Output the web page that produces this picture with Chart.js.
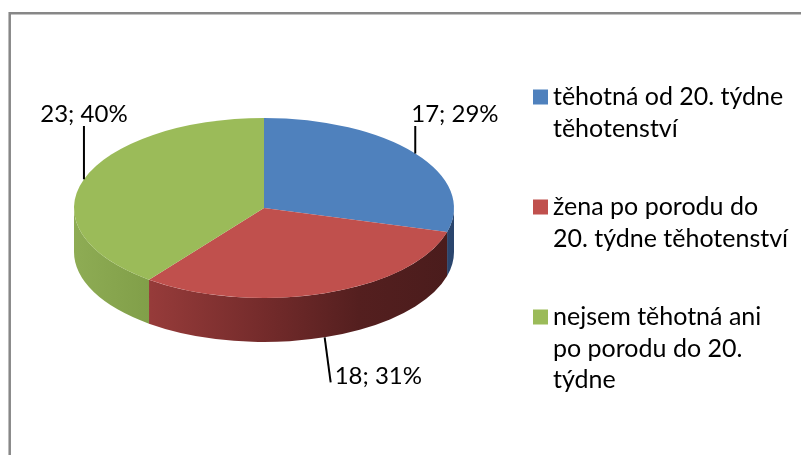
<!DOCTYPE html>
<html>
<head>
<meta charset="utf-8">
<script src="https://cdn.jsdelivr.net/npm/chart.js@4.4.1/dist/chart.umd.min.js"></script>
<style>
    html, body { margin: 0; padding: 0; background: #fff; }
    #chartBox { position: relative; width: 801px; height: 455px; }
</style>
</head>
<body>
<div id="chartBox"><canvas id="pregnancyPieChart" width="801" height="455"></canvas></div>
<script>
// data
const categories = [
    ['těhotná od 20. týdne', 'těhotenství'],
    ['žena po porodu do', '20. týdne těhotenství'],
    ['nejsem těhotná ani', 'po porodu do 20.', 'týdne']
];
const counts = [17, 18, 23];

// styles
const topColors = ['#4f81bd', '#c0504d', '#9bbb59'];
const wallStops = [
    [[0, '#4a76ad'], [0.6, '#35588a'], [1, '#2a456d']],
    [[0, '#ad4644'], [0.5, '#742b2b'], [0.75, '#541f1f'], [1, '#4a1c1c']],
    [[0, '#8eac54'], [0.3, '#7a9843'], [1, '#566f2c']]
];
const tilt = 90 / 190;
const depth = 44;
const fontName = 'Lato';
const labelSize = 24;
const legendSize = 25;

const pie3d = {
    id: 'pie3d',
    beforeDraw(chart) {
        let ctx = chart.ctx;
        ctx.save();
        ctx.strokeStyle = '#878787';
        ctx.lineWidth = 2.5;
        ctx.beginPath();
        ctx.moveTo(9.7, chart.height);
        ctx.lineTo(9.7, 13.2);
        ctx.lineTo(chart.width, 13.2);
        ctx.stroke();
        ctx.restore();
    },
    beforeDatasetsDraw(chart) {
        let ctx = chart.ctx;
        let arcs = chart.getDatasetMeta(0).data;
        let cx = arcs[0].x, cy = arcs[0].y, r = arcs[0].outerRadius;
        let ry = r * tilt;

        // side walls, only the front half shows
        arcs.forEach(function(arc, i){
            let a0 = Math.max(arc.startAngle, 0);
            let a1 = Math.min(arc.endAngle, Math.PI);
            if(a1 <= a0) return;
            let g = ctx.createLinearGradient(cx - r, 0, cx + r, 0);
            wallStops[i].forEach(function(s){ g.addColorStop(s[0], s[1]); });
            ctx.beginPath();
            ctx.ellipse(cx, cy, r, ry, 0, a0, a1);
            ctx.ellipse(cx, cy + depth, r, ry, 0, a1, a0, true);
            ctx.closePath();
            ctx.fillStyle = g;
            ctx.fill();
        });

        // squash the top face
        ctx.save();
        ctx.translate(cx, cy);
        ctx.scale(1, tilt);
        ctx.translate(-cx, -cy);
    },
    afterDatasetsDraw(chart) {
        let ctx = chart.ctx;
        ctx.restore();

        let arcs = chart.getDatasetMeta(0).data;
        let values = chart.data.datasets[0].data;
        let total = values.reduce(function(a, b){ return a + b; }, 0);

        ctx.save();
        ctx.font = labelSize + 'px ' + fontName;
        ctx.fillStyle = '#000';
        ctx.strokeStyle = '#000';
        ctx.lineWidth = 2;
        ctx.textBaseline = 'alphabetic';
        arcs.forEach(function(arc, i){
            let m = (arc.startAngle + arc.endAngle) / 2;
            let ry = arc.outerRadius * tilt;
            let px = arc.x + arc.outerRadius * Math.cos(m);
            let py = arc.y + ry * Math.sin(m);
            let text = values[i] + '; ' + Math.round(values[i] / total * 100) + '%';
            ctx.beginPath();
            if(Math.sin(m) < 0){
                // labels above the pie share one baseline
                let base = arc.y - ry + 4;
                ctx.moveTo(px, py);
                ctx.lineTo(px, base + 4);
                ctx.stroke();
                if(Math.cos(m) > 0){
                    ctx.textAlign = 'left';
                    ctx.fillText(text, px - 4, base);
                } else {
                    ctx.textAlign = 'center';
                    ctx.fillText(text, px, base);
                }
            } else {
                let sy = py + depth;
                let ex = px + 6, ey = sy + 45;
                ctx.moveTo(px, sy);
                ctx.lineTo(ex, ey);
                ctx.stroke();
                ctx.textAlign = 'left';
                ctx.fillText(text, ex + 4, ey + 2);
            }
        });
        ctx.restore();
    },
    afterDraw(chart) {
        let ctx = chart.ctx;
        let names = chart.data.labels;
        let colors = chart.data.datasets[0].backgroundColor;
        let lineH = 31.5;
        let gap = 47;
        let y = 97;
        ctx.save();
        ctx.font = legendSize + 'px ' + fontName;
        ctx.textAlign = 'left';
        ctx.textBaseline = 'middle';
        names.forEach(function(lines, i){
            ctx.fillStyle = colors[i];
            ctx.fillRect(533, y - 7.5, 15, 15);
            ctx.fillStyle = '#000';
            lines.forEach(function(line, j){
                ctx.fillText(line, 553, y + j * lineH);
            });
            y += lines.length * lineH + gap;
        });
        ctx.restore();
    }
};

let ctx = document.getElementById('pregnancyPieChart').getContext('2d');
let pregnancyPieChart = new Chart(ctx, {
    type: 'pie',
    data: {
        labels: categories,
        datasets: [{
            data: counts,
            backgroundColor: topColors,
            borderWidth: 0,
            hoverOffset: 0,
            offset: 0
        }]
    },
    options: {
        responsive: false,
        devicePixelRatio: 1,
        animation: false,
        events: [],
        layout: {
            padding: { left: 74, right: 347, top: 18, bottom: 57 }
        },
        plugins: {
            legend: { display: false },
            tooltip: { enabled: false }
        }
    },
    plugins: [pie3d]
});
</script>
</body>
</html>
